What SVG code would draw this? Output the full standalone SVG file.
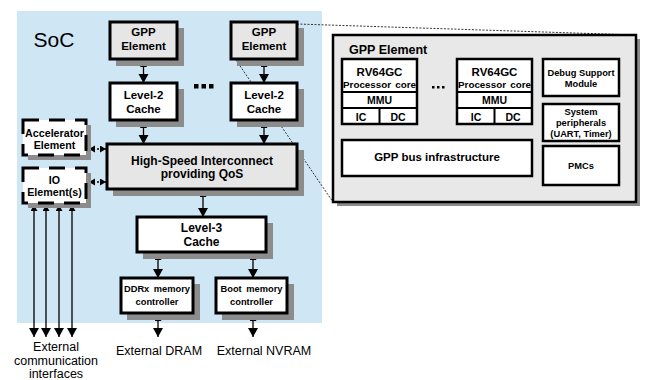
<svg xmlns="http://www.w3.org/2000/svg" width="646" height="380" viewBox="0 0 646 380">
  <style>
    .bg { fill: #cfe6f4; }
    .sh { fill: #8c8c8c; }
    .box { fill: #ffffff; stroke: #000; stroke-width: 3; }
    .gbox { fill: #e6e6e6; stroke: #000; stroke-width: 3; }
    .dbox { fill: #ffffff; stroke: #000; stroke-width: 3; stroke-dasharray: 16 10; }
    .ibox { fill: #ffffff; stroke: #000; stroke-width: 2.5; }
    .div { stroke: #000; stroke-width: 2; fill: none; }
    .t { font-family: "Liberation Sans", Arial, Helvetica, sans-serif; font-weight: bold; text-anchor: middle; fill: #000; }
    .r { font-family: "Liberation Sans", Arial, Helvetica, sans-serif; text-anchor: middle; fill: #000; }
    .arr { stroke: #000; stroke-width: 1.3; fill: none; marker-start: url(#hs); marker-end: url(#hl); }
    .dot { stroke: #000; stroke-width: 1.3; fill: none; stroke-dasharray: 2 2; marker-start: url(#hs); marker-end: url(#hs); }
    .zoomline { stroke: #333; stroke-width: 1; fill: none; stroke-dasharray: 2 1.5; }
  </style>
  <defs>
    <marker id="hl" markerUnits="userSpaceOnUse" markerWidth="11" markerHeight="11" refX="9" refY="5" orient="auto-start-reverse">
      <path d="M0,0 L9,5 L0,10 z" fill="#000"/>
    </marker>
    <marker id="hs" markerUnits="userSpaceOnUse" markerWidth="8" markerHeight="8" refX="6" refY="3.5" orient="auto-start-reverse">
      <path d="M0,0 L6,3.5 L0,7 z" fill="#000"/>
    </marker>
  </defs>

  <!-- SoC area -->
  <rect class="bg" x="17" y="11" width="305" height="312"/>
  <text class="r" x="54" y="47" font-size="21" font-weight="normal">SoC</text>

  <!-- zoom guide lines toward the GPP element detail -->
  <g id="zoom-lines">
    <line class="zoomline" x1="297" y1="24" x2="636" y2="35"/>
    <line class="zoomline" x1="236" y1="60" x2="333" y2="202"/>
  </g>

  <!-- connectors -->
  <g id="connectors">
    <line class="arr" x1="143.5" y1="61" x2="143.5" y2="83"/>
    <line class="arr" x1="264" y1="61" x2="264" y2="83"/>
    <line class="arr" x1="143.5" y1="122" x2="143.5" y2="144"/>
    <line class="arr" x1="264" y1="122" x2="264" y2="144"/>
    <line class="arr" x1="203" y1="191" x2="203" y2="217"/>
    <line class="arr" x1="158" y1="254" x2="158" y2="278"/>
    <line class="arr" x1="253" y1="254" x2="253" y2="278"/>
    <line class="arr" x1="158" y1="315" x2="158" y2="337"/>
    <line class="arr" x1="253" y1="315" x2="253" y2="337"/>
    <line class="arr" x1="34" y1="205" x2="34" y2="337"/>
    <line class="arr" x1="46" y1="205" x2="46" y2="337"/>
    <line class="arr" x1="59" y1="205" x2="59" y2="337"/>
    <line class="arr" x1="72" y1="205" x2="72" y2="337"/>
    <line class="dot" x1="89" y1="149" x2="106" y2="149"/>
    <line class="dot" x1="89" y1="182" x2="106" y2="182"/>
  </g>

  <g id="gpp1">
    <rect class="sh" x="116" y="28" width="68" height="38"/>
    <rect class="gbox" x="110" y="22" width="67" height="37"/>
    <text class="t" x="143.5" y="36" font-size="11.5">GPP</text>
    <text class="t" x="143.5" y="50" font-size="11.5">Element</text>
  </g>
  <g id="gpp2">
    <rect class="sh" x="237" y="28" width="67" height="38"/>
    <rect class="gbox" x="231" y="22" width="66" height="37"/>
    <text class="t" x="264" y="36" font-size="11.5">GPP</text>
    <text class="t" x="264" y="50" font-size="11.5">Element</text>
  </g>
  <g id="ellipsis-left">
    <rect x="194" y="84" width="4.5" height="4.5" fill="#000"/>
    <rect x="201.5" y="84" width="4.5" height="4.5" fill="#000"/>
    <rect x="209" y="84" width="4.5" height="4.5" fill="#000"/>
  </g>
  <g id="l2-1">
    <rect class="sh" x="116" y="89" width="68" height="38"/>
    <rect class="box" x="110" y="83" width="67" height="37"/>
    <text class="t" x="143.5" y="99" font-size="11.5">Level-2</text>
    <text class="t" x="143.5" y="112.5" font-size="11.5">Cache</text>
  </g>
  <g id="l2-2">
    <rect class="sh" x="237" y="89" width="67" height="38"/>
    <rect class="box" x="231" y="83" width="66" height="37"/>
    <text class="t" x="264" y="99" font-size="11.5">Level-2</text>
    <text class="t" x="264" y="112.5" font-size="11.5">Cache</text>
  </g>
  <g id="interconnect">
    <rect class="sh" x="113" y="150" width="191" height="46"/>
    <rect class="gbox" x="107" y="144" width="190" height="45"/>
    <text class="t" x="202" y="165" font-size="12">High-Speed Interconnect</text>
    <text class="t" x="202" y="178" font-size="12">providing QoS</text>
  </g>
  <g id="accelerator">
    <rect class="sh" x="28" y="125" width="63" height="35"/>
    <rect class="dbox" x="23" y="120" width="63" height="35"/>
    <text class="t" x="54.5" y="137" font-size="10.7">Accelerator</text>
    <text class="t" x="54.5" y="149" font-size="10.7">Element</text>
  </g>
  <g id="io">
    <rect class="sh" x="28" y="173" width="63" height="35"/>
    <rect class="dbox" x="23" y="168" width="63" height="35"/>
    <text class="t" x="54.5" y="183.5" font-size="10.7">IO</text>
    <text class="t" x="54.5" y="196" font-size="10.7">Element(s)</text>
  </g>
  <g id="l3">
    <rect class="sh" x="143" y="223" width="130" height="36"/>
    <rect class="box" x="137" y="217" width="129" height="35"/>
    <text class="t" x="201.5" y="232" font-size="12">Level-3</text>
    <text class="t" x="201.5" y="245.5" font-size="12">Cache</text>
  </g>
  <g id="ddrx">
    <rect class="sh" x="127" y="284" width="73" height="36"/>
    <rect class="box" x="121" y="278" width="72" height="35"/>
    <text class="t" x="157" y="292" font-size="9.3" word-spacing="2">DDRx memory</text>
    <text class="t" x="157" y="305" font-size="9.3">controller</text>
  </g>
  <g id="boot">
    <rect class="sh" x="222" y="284" width="72" height="36"/>
    <rect class="box" x="216" y="278" width="71" height="35"/>
    <text class="t" x="251.5" y="292" font-size="9.3" word-spacing="2">Boot memory</text>
    <text class="t" x="251.5" y="305" font-size="9.3">controller</text>
  </g>

  <g id="external-labels">
    <text class="r" x="56" y="350.5" font-size="12.5">External</text>
    <text class="r" x="56" y="364.5" font-size="12.5">communication</text>
    <text class="r" x="56" y="377.5" font-size="12.5">interfaces</text>
    <text class="r" x="159" y="355" font-size="12.5">External DRAM</text>
    <text class="r" x="264" y="355" font-size="12.5">External NVRAM</text>
  </g>

  <!-- GPP element detail -->
  <g id="gpp-detail">
    <rect class="sh" x="337" y="39" width="303" height="167"/>
    <rect fill="#e8e8e8" stroke="#000" stroke-width="2.5" x="333" y="35" width="303" height="167"/>
    <text class="t" x="349" y="54" font-size="12.5" style="text-anchor:start">GPP Element</text>
  </g>
  <g id="core1">
    <rect class="ibox" x="342" y="59" width="75" height="65"/>
    <path class="div" d="M342,92 H417 M342,108 H417 M379.5,108 V124"/>
    <text class="t" x="379.5" y="76" font-size="11.5">RV64GC</text>
    <text class="t" x="379.5" y="88" font-size="9.8" word-spacing="1.5">Processor core</text>
    <text class="t" x="379.5" y="104" font-size="10.5">MMU</text>
    <text class="t" x="361" y="120.5" font-size="10.5">IC</text>
    <text class="t" x="398" y="120.5" font-size="10.5">DC</text>
  </g>
  <g id="ellipsis-right">
    <rect x="432" y="86" width="2.5" height="2.5" fill="#000"/>
    <rect x="437" y="86" width="2.5" height="2.5" fill="#000"/>
    <rect x="442" y="86" width="2.5" height="2.5" fill="#000"/>
  </g>
  <g id="core2">
    <rect class="ibox" x="457" y="59" width="75" height="65"/>
    <path class="div" d="M457,92 H532 M457,108 H532 M494.5,108 V124"/>
    <text class="t" x="494.5" y="76" font-size="11.5">RV64GC</text>
    <text class="t" x="494.5" y="88" font-size="9.8" word-spacing="1.5">Processor core</text>
    <text class="t" x="494.5" y="104" font-size="10.5">MMU</text>
    <text class="t" x="476" y="120.5" font-size="10.5">IC</text>
    <text class="t" x="513" y="120.5" font-size="10.5">DC</text>
  </g>
  <g id="debug">
    <rect class="ibox" x="543" y="59" width="76" height="37"/>
    <text class="t" x="581" y="76" font-size="9.3">Debug Support</text>
    <text class="t" x="581" y="87" font-size="9.3">Module</text>
  </g>
  <g id="sysperiph">
    <rect class="ibox" x="543" y="104" width="76" height="37"/>
    <text class="t" x="581" y="115" font-size="9.3">System</text>
    <text class="t" x="581" y="126" font-size="9.3">peripherals</text>
    <text class="t" x="581" y="137" font-size="9.3">(UART, Timer)</text>
  </g>
  <g id="pmcs">
    <rect class="ibox" x="543" y="146" width="76" height="39"/>
    <text class="t" x="581" y="169" font-size="9.3">PMCs</text>
  </g>
  <g id="gppbus">
    <rect class="ibox" x="342" y="140" width="190" height="36"/>
    <text class="t" x="437" y="161" font-size="11.5">GPP bus infrastructure</text>
  </g>
</svg>
